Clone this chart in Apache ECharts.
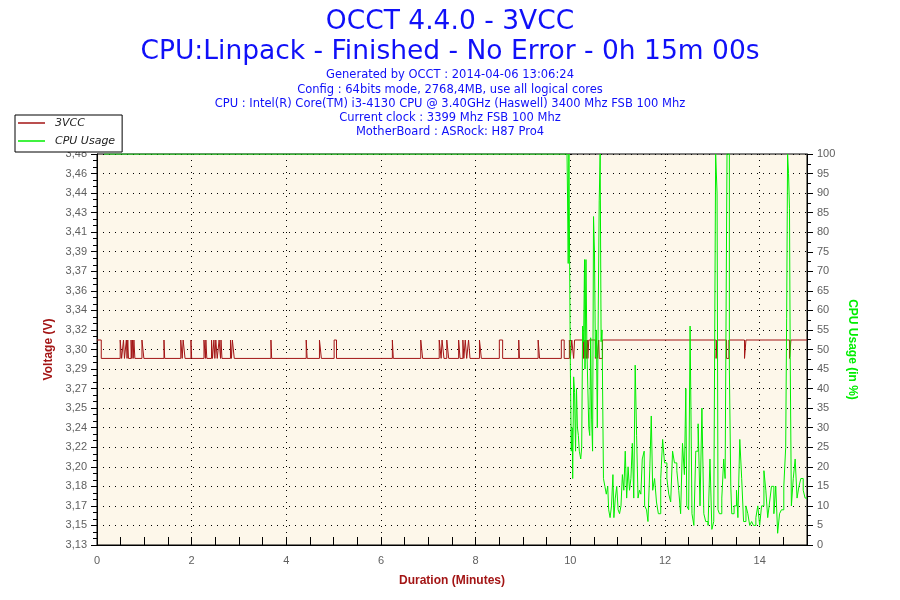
<!DOCTYPE html>
<html><head><meta charset="utf-8">
<script src="https://cdn.jsdelivr.net/npm/echarts@6/dist/echarts.min.js"></script>
<style>html,body{margin:0;padding:0;background:#fff}#c{width:900px;height:600px}</style>
</head><body><div id="c"></div>
<script>
const titleLines = ['OCCT 4.4.0 - 3VCC', 'CPU:Linpack - Finished - No Error - 0h 15m 00s'];
const infoLines = [
  'Generated by OCCT : 2014-04-06 13:06:24',
  'Config : 64bits mode, 2768,4MB, use all logical cores',
  'CPU : Intel(R) Core(TM) i3-4130 CPU @ 3.40GHz (Haswell) 3400 Mhz FSB 100 Mhz',
  'Current clock : 3399 Mhz FSB 100 Mhz',
  'MotherBoard : ASRock: H87 Pro4'
];
const seriesNames = ['3VCC', 'CPU Usage'];
const voltTickLabels = ['3,13','3,15','3,17','3,18','3,20','3,22','3,24','3,25','3,27','3,29','3,30','3,32','3,34','3,36','3,37','3,39','3,41','3,43','3,44','3,46','3,48'];
const voltMin = 3.1325, voltStep = 0.0175, voltMax = 3.4825;
const cpuTicks = {min: 0, max: 100, step: 5};
const timeAxis = {min: 0, max: 15, step: 2};

// 3VCC change points (minutes, volts): two sensor levels
const VH = 3.316, VL = 3.2995;
const voltTime = [
  0,0.09,0.49,0.52,0.56,0.58,0.62,0.635,0.65,0.665,
  0.72,0.735,0.75,0.765,0.78,0.80,0.95,0.99,1.415,1.43,
  1.77,1.80,1.82,1.86,1.985,2.0,2.26,2.29,2.30,2.32,
  2.42,2.44,2.47,2.49,2.51,2.54,2.58,2.61,2.62,2.64,
  2.82,2.84,2.86,2.90,3.675,3.69,4.42,4.44,4.70,4.74,
  5.01,5.06,6.24,6.26,6.84,6.88,7.23,7.27,7.29,7.33,
  7.39,7.43,7.64,7.67,7.73,7.75,7.78,7.81,7.85,7.88,
  8.08,8.12,8.50,8.57,8.91,8.925,9.32,9.35,9.81,9.87,
  9.98,10.00,10.03,10.07,10.09,10.28,10.29,10.31,10.33,10.34,
  10.36,10.37,10.39,10.53,10.55,10.57,10.60,10.61,10.68,13.08,
  13.095,13.30,13.35,13.68,13.71,14.63,14.66,15.0];
const voltValue = [
  VH,VL,VH,VL,VH,VL,VH,VL,VH,VL,
  VH,VL,VH,VL,VH,VL,VH,VL,VH,VL,
  VH,VL,VH,VL,VH,VL,VH,VL,VH,VL,
  VH,VL,VH,VL,VH,VL,VH,VL,VH,VL,
  VH,VL,VH,VL,VH,VL,VH,VL,VH,VL,
  VH,VL,VH,VL,VH,VL,VH,VL,VH,VL,
  VH,VL,VH,VL,VH,VL,VH,VL,VH,VL,
  VH,VL,VH,VL,VH,VL,VH,VL,VH,VL,
  VH,VL,VH,VL,VH,VL,VH,VL,VH,VL,
  VH,VL,VH,VL,VH,VL,VH,VL,VH,VL,
  VH,VL,VH,VL,VH,VL,VH,VH];

// CPU usage samples (minutes, %)
const cpuTime = [
  0.15,9.93,9.94,9.955,9.97,10.0,10.02,10.04,10.05,10.07,
  10.09,10.11,10.13,10.15,10.17,10.19,10.22,10.24,10.26,10.28,
  10.30,10.31,10.33,10.35,10.37,10.39,10.41,10.43,10.45,10.47,
  10.49,10.51,10.53,10.55,10.57,10.59,10.61,10.63,10.65,10.67,
  10.70,10.73,10.76,10.79,10.81,10.84,10.87,10.90,10.92,10.95,
  10.98,11.01,11.04,11.07,11.10,11.13,11.16,11.19,11.22,11.25,
  11.28,11.31,11.34,11.37,11.40,11.43,11.46,11.49,11.52,11.56,
  11.57,11.61,11.64,11.68,11.71,11.74,11.78,11.82,11.86,11.91,
  11.95,11.99,12.04,12.08,12.12,12.16,12.20,12.25,12.29,12.33,
  12.37,12.41,12.44,12.46,12.50,12.53,12.57,12.61,12.65,12.70,
  12.74,12.78,12.82,12.86,12.91,12.95,12.99,13.03,13.07,13.10,
  13.12,13.15,13.20,13.24,13.27,13.31,13.34,13.36,13.39,13.41,
  13.46,13.51,13.54,13.58,13.62,13.66,13.71,13.75,13.79,13.83,
  13.87,13.92,13.96,14.00,14.04,14.09,14.13,14.17,14.21,14.25,
  14.30,14.34,14.38,14.42,14.46,14.51,14.55,14.57,14.59,14.61,
  14.63,14.645,14.67,14.71,14.75,14.79,14.83,14.87,14.92,14.96,
  15.0];
const cpuValue = [
  100,100,90,72,100,46,24,30,17,43,
  39,24,40,30,28,24,22,25,56,52,
  73,45,73,50,40,30,28,53,32,24,
  84,75,48,55,30,60,88,100,52,55,
  17,15,13,15,9,7,10,18,7,12,
  15,9,8,10,18,14,24,12,20,14,
  17,26,12,46,28,12,14,13,22,24,
  10,9,6,20,33,14,17,11,8,17,
  27,21,17,13,11,24,21,19,14,8,
  26,18,40,10,9,56,8,5,24,31,
  10,35,8,6,5,22,4,6,100,90,
  9,8,12,22,17,100,100,45,15,8,
  10,14,7,27,17,6,10,8,5,6,
  5,7,10,5,10,19,14,7,11,15,
  8,15,3,8,9,15,25,58,100,95,
  86,48,10,17,22,12,15,17,14,12,
  12];

const RED = '#a31515', GREEN = '#00ee00', BLUE = '#1010f8';
const voltData = voltTime.map((t, i) => [t, voltValue[i]]);
const cpuData = cpuTime.map((t, i) => [t, cpuValue[i]]);

const graphics = [];
titleLines.forEach((s, i) => graphics.push({type: 'text', z: 10, style: {text: s, x: 450, y: 22 + i * 30, align: 'center', verticalAlign: 'middle', font: '26.5px "DejaVu Sans"', fill: BLUE}}));
infoLines.forEach((s, i) => graphics.push({type: 'text', z: 10, style: {text: s, x: 450, y: 75.5 + i * 14.2, align: 'center', verticalAlign: 'middle', font: '11.5px "DejaVu Sans"', fill: BLUE}}));

const dotted = {type: [1, 5], color: '#000', width: 1};
const chart = echarts.init(document.getElementById('c'), null, {renderer: 'canvas'});
chart.setOption({
  animation: false,
  backgroundColor: '#fff',
  graphic: graphics,
  grid: {left: 97, right: 93, top: 154, bottom: 55, show: true, backgroundColor: '#fdf7ea', borderColor: '#000', borderWidth: 1},
  legend: {
    orient: 'vertical', left: 15, top: 115, z: 20,
    backgroundColor: '#fff', borderColor: '#000', borderWidth: 1, borderRadius: 0,
    padding: [1, 7, 4, 3], itemGap: 4, itemWidth: 27, itemHeight: 1.5, icon: 'rect',
    textStyle: {fontFamily: 'DejaVu Sans', fontStyle: 'italic', fontSize: 11, color: '#222', lineHeight: 14, padding: [0, 0, 0, 5]},
    data: seriesNames
  },
  xAxis: {
    type: 'value', min: timeAxis.min, max: timeAxis.max, interval: timeAxis.step,
    name: 'Duration (Minutes)', nameLocation: 'middle', nameGap: 30,
    nameTextStyle: {color: RED, fontWeight: 'bold', fontSize: 12, fontFamily: 'Liberation Sans'},
    axisLine: {lineStyle: {color: '#000'}},
    axisTick: {inside: true, length: 8, lineStyle: {color: '#000'}},
    minorTick: {show: true, splitNumber: 4, length: 8, lineStyle: {color: '#000'}},
    axisLabel: {color: '#606060', fontSize: 11, fontFamily: 'Liberation Sans', margin: 10, showMaxLabel: false},
    splitLine: {show: true, lineStyle: dotted}
  },
  yAxis: [{
    type: 'value', min: voltMin, max: voltMax, interval: voltStep, position: 'left',
    name: 'Voltage (V)', nameLocation: 'middle', nameGap: 39,
    nameTextStyle: {color: RED, fontWeight: 'bold', fontSize: 12, fontFamily: 'Liberation Sans'},
    axisLine: {show: true, lineStyle: {color: '#000'}},
    axisTick: {show: true, length: 6, lineStyle: {color: '#000', width: 1}},
    minorTick: {show: true, splitNumber: 3, length: 4, lineStyle: {color: '#000'}},
    axisLabel: {color: '#606060', fontSize: 11, fontFamily: 'Liberation Sans', margin: 10,
      formatter: v => voltTickLabels[Math.round((v - voltMin) / voltStep)] || ''},
    splitLine: {show: true, lineStyle: dotted}
  }, {
    type: 'value', min: cpuTicks.min, max: cpuTicks.max, interval: cpuTicks.step, position: 'right',
    name: 'CPU Usage (in %)', nameLocation: 'middle', nameGap: 33, nameRotate: -90,
    nameTextStyle: {color: GREEN, fontWeight: 'bold', fontSize: 12, fontFamily: 'Liberation Sans'},
    axisLine: {show: true, lineStyle: {color: '#000'}},
    axisTick: {show: true, length: 6, lineStyle: {color: '#000'}},
    minorTick: {show: true, splitNumber: 2, length: 4, lineStyle: {color: '#000'}},
    axisLabel: {color: '#606060', fontSize: 11, fontFamily: 'Liberation Sans', margin: 10},
    splitLine: {show: false}
  }],
  series: [{
    name: seriesNames[0], type: 'line', yAxisIndex: 0, step: 'end', symbol: 'none', data: voltData,
    lineStyle: {color: RED, width: 1}, itemStyle: {color: RED}, z: 3
  }, {
    name: seriesNames[1], type: 'line', yAxisIndex: 1, step: 'end', symbol: 'none', data: cpuData,
    lineStyle: {color: GREEN, width: 1}, itemStyle: {color: GREEN}, z: 4
  }]
});
</script></body></html>
